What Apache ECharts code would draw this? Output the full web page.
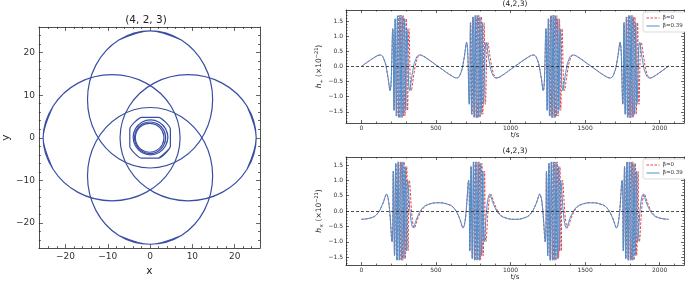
<!DOCTYPE html>
<html>
<head>
<meta charset="utf-8">
<script src="https://cdn.jsdelivr.net/npm/echarts@6/dist/echarts.min.js"></script>
<style>
html, body { margin: 0; padding: 0; background: #fff; }
#chart { width: 685px; height: 282px; }
</style>
</head>
<body>
<div id="chart"></div>
<script>
/* jshint strict: false */

// ---- orbit (x, y); each loop repeats its first points to close ----
var orbitTop = [[-7.4, 22.94], [0, 25.1], [7.4, 22.94], [12.82, 17.05], [14.8, 9], [12.82, 0.95], [7.4, -4.94], [0, -7.1],
    [-7.4, -4.94], [-12.82, 0.95], [-14.8, 9], [-12.82, 17.05], [-7.4, 22.94], [0, 25.1], [7.4, 22.94]];
var orbitBottom = [[-7.4, -22.94], [0, -25.0], [7.4, -22.94], [12.82, -17.05], [14.8, -9], [12.82, -0.95], [7.4, 4.94], [0, 7.1],
    [-7.4, 4.94], [-12.82, -0.95], [-14.8, -9], [-12.82, -17.05], [-7.4, -22.94], [0, -25.0], [7.4, -22.94]];
var orbitRight = [[22.94, -7.4], [25.1, 0], [22.94, 7.4], [17.05, 12.82], [9, 14.8], [0.95, 12.82], [-4.94, 7.4], [-7.1, 0],
    [-4.94, -7.4], [0.95, -12.82], [9, -14.8], [17.05, -12.82], [22.94, -7.4], [25.1, 0], [22.94, 7.4]];
var orbitLeft = [[-22.94, -7.4], [-25.3, 0], [-22.94, 7.4], [-17.05, 12.82], [-9, 14.8], [-0.95, 12.82], [4.94, 7.4], [7.1, 0],
    [4.94, -7.4], [-0.95, -12.82], [-9, -14.8], [-17.05, -12.82], [-22.94, -7.4], [-25.3, 0], [-22.94, 7.4]];
var whirlCore = [[2.84, -1.7], [3.3, 0], [2.84, 1.7], [1.6, 2.94], [-0.1, 3.4], [-1.8, 2.94], [-3.04, 1.7], [-3.5, 0],
    [-3.04, -1.7], [-1.8, -2.94], [-0.1, -3.4], [1.6, -2.94], [2.84, -1.7], [3.3, 0], [2.84, 1.7]];
var whirlInner = [[3.2, -1.85], [3.7, 0], [3.2, 1.85], [1.85, 3.2], [0, 3.7], [-1.85, 3.2], [-3.2, 1.85], [-3.7, 0],
    [-3.2, -1.85], [-1.85, -3.2], [0, -3.7], [1.85, -3.2], [3.2, -1.85], [3.7, 0], [3.2, 1.85]];
var whirlOuter = [[3.65, -1.95], [4.2, 0.1], [3.65, 2.15], [2.15, 3.65], [0.1, 4.2], [-1.95, 3.65], [-3.45, 2.15], [-4.0, 0.1],
    [-3.45, -1.95], [-1.95, -3.45], [0.1, -4.0], [2.15, -3.45], [3.65, -1.95], [4.2, 0.1], [3.65, 2.15]];
var whirlEdge = [[2.0, -4.8], [4.8, -2.0], [4.8, 2.0], [2.0, 4.8], [-2.0, 4.8], [-4.8, 2.0], [-4.8, -2.0], [-2.0, -4.8],
    [2.0, -4.8], [4.8, -2.0], [4.8, 2.0]];

// ---- waveforms [t (s), h (x1e-21)] ----
var hPlusBeta0 = [[0, 0.0], [97, 0.33], [127, 0.38], [153, 0.22], [173, -0.2], [193, -0.8],
    [211, 1.25], [220, -1.45], [229, 1.58], [238, -1.64], [247, 1.68], [256, -1.69], [265, 1.7], [274, -1.69], [283, 1.68], [292, -1.64], [301, 1.58], [310, -1.45], [319, 1.25], [335, -0.8],
    [354, -0.2], [372, 0.22], [395, 0.38], [422, 0.33], [515, 0.0], [612, -0.33], [640, -0.38], [666, -0.22], [686, 0.2], [706, 0.8],
    [724, -1.25], [733, 1.45], [742, -1.58], [751, 1.64], [760, -1.68], [769, 1.69], [778, -1.7], [787, 1.69], [796, -1.68], [805, 1.64], [814, -1.58], [823, 1.45], [832, -1.25], [848, 0.8],
    [867, 0.2], [885, -0.22], [908, -0.38], [935, -0.33], [1028, 0.0], [1125, 0.33], [1154, 0.38], [1180, 0.22], [1200, -0.2], [1220, -0.8],
    [1238, 1.25], [1247, -1.45], [1256, 1.58], [1265, -1.64], [1274, 1.68], [1283, -1.69], [1292, 1.7], [1301, -1.69], [1310, 1.68], [1319, -1.64], [1328, 1.58], [1337, -1.45], [1346, 1.25], [1362, -0.8],
    [1381, -0.2], [1399, 0.22], [1422, 0.38], [1449, 0.33], [1542, 0.0], [1639, -0.33], [1669, -0.38], [1695, -0.22], [1715, 0.2], [1735, 0.8],
    [1753, -1.25], [1762, 1.45], [1771, -1.58], [1780, 1.64], [1789, -1.68], [1798, 1.69], [1807, -1.7], [1816, 1.69], [1825, -1.68], [1834, 1.64], [1843, -1.58], [1852, 1.45], [1861, -1.25], [1877, 0.8],
    [1896, 0.2], [1914, -0.22], [1937, -0.38], [1964, -0.33], [2060, 0.02]];
var hPlusBeta039 = [[0, 0.0], [97, 0.33], [127, 0.38], [153, 0.22], [173, -0.2], [192, -0.8],
    [210, 1.25], [218, -1.45], [226, 1.58], [234, -1.64], [242, 1.68], [250, -1.69], [258, 1.7], [266, -1.69], [274, 1.68], [282, -1.64], [290, 1.58], [298, -1.45], [306, 1.25], [324, -0.8],
    [343, -0.2], [363, 0.22], [389, 0.38], [418, 0.33], [515, 0.0], [612, -0.33], [640, -0.38], [666, -0.22], [686, 0.2], [705, 0.8],
    [723, -1.25], [731, 1.45], [739, -1.58], [747, 1.64], [755, -1.68], [763, 1.69], [771, -1.7], [779, 1.69], [787, -1.68], [795, 1.64], [803, -1.58], [811, 1.45], [819, -1.25], [837, 0.8],
    [856, 0.2], [876, -0.22], [902, -0.38], [931, -0.33], [1028, 0.0], [1125, 0.33], [1154, 0.38], [1180, 0.22], [1200, -0.2], [1219, -0.8],
    [1237, 1.25], [1245, -1.45], [1253, 1.58], [1261, -1.64], [1269, 1.68], [1277, -1.69], [1285, 1.7], [1293, -1.69], [1301, 1.68], [1309, -1.64], [1317, 1.58], [1325, -1.45], [1333, 1.25], [1351, -0.8],
    [1370, -0.2], [1390, 0.22], [1416, 0.38], [1445, 0.33], [1542, 0.0], [1639, -0.33], [1669, -0.38], [1695, -0.22], [1715, 0.2], [1734, 0.8],
    [1752, -1.25], [1760, 1.45], [1768, -1.58], [1776, 1.64], [1784, -1.68], [1792, 1.69], [1800, -1.7], [1808, 1.69], [1816, -1.68], [1824, 1.64], [1832, -1.58], [1840, 1.45], [1848, -1.25], [1866, 0.8],
    [1885, 0.2], [1905, -0.22], [1931, -0.38], [1960, -0.33], [2060, 0.02]];
var hCrossBeta0 = [[0, -0.27], [65, -0.22], [105, -0.1], [140, 0.2], [168, 0.55],
    [205, -1.0], [214, 1.3], [223, -1.45], [232, 1.55], [241, -1.6], [250, 1.6], [259, -1.6], [268, 1.6], [277, -1.6], [286, 1.6], [295, -1.55], [304, 1.45], [313, -1.3], [322, 1.0],
    [356, -0.55], [382, -0.2], [416, 0.1], [455, 0.22], [515, 0.27], [580, 0.22], [620, 0.1], [655, -0.2], [681, -0.55],
    [718, 1.0], [727, -1.3], [736, 1.45], [745, -1.55], [754, 1.6], [763, -1.6], [772, 1.6], [781, -1.6], [790, 1.6], [799, -1.6], [808, 1.55], [817, -1.45], [826, 1.3], [835, -1.0],
    [869, 0.55], [895, 0.2], [929, -0.1], [968, -0.22], [1028, -0.27], [1093, -0.22], [1133, -0.1], [1168, 0.2], [1195, 0.55],
    [1232, -1.0], [1241, 1.3], [1250, -1.45], [1259, 1.55], [1268, -1.6], [1277, 1.6], [1286, -1.6], [1295, 1.6], [1304, -1.6], [1313, 1.6], [1322, -1.55], [1331, 1.45], [1340, -1.3], [1349, 1.0],
    [1383, -0.55], [1409, -0.2], [1443, 0.1], [1482, 0.22], [1542, 0.27], [1607, 0.22], [1647, 0.1], [1682, -0.2], [1710, -0.55],
    [1747, 1.0], [1756, -1.3], [1765, 1.45], [1774, -1.55], [1783, 1.6], [1792, -1.6], [1801, 1.6], [1810, -1.6], [1819, 1.6], [1828, -1.6], [1837, 1.55], [1846, -1.45], [1855, 1.3], [1864, -1.0],
    [1898, 0.55], [1924, 0.2], [1958, -0.1], [1996, -0.22], [2060, -0.27]];
var hCrossBeta039 = [[0, -0.27], [65, -0.22], [105, -0.1], [140, 0.2], [168, 0.55],
    [206, -1.0], [214, 1.3], [222, -1.45], [230, 1.55], [238, -1.6], [246, 1.6], [254, -1.6], [262, 1.6], [270, -1.6], [278, 1.6], [286, -1.55], [294, 1.45], [302, -1.3], [310, 1.0],
    [348, -0.55], [375, -0.2], [410, 0.1], [450, 0.22], [515, 0.27], [580, 0.22], [620, 0.1], [655, -0.2], [681, -0.55],
    [719, 1.0], [727, -1.3], [735, 1.45], [743, -1.55], [751, 1.6], [759, -1.6], [767, 1.6], [775, -1.6], [783, 1.6], [791, -1.6], [799, 1.55], [807, -1.45], [815, 1.3], [823, -1.0],
    [861, 0.55], [888, 0.2], [923, -0.1], [963, -0.22], [1028, -0.27], [1093, -0.22], [1133, -0.1], [1168, 0.2], [1195, 0.55],
    [1233, -1.0], [1241, 1.3], [1249, -1.45], [1257, 1.55], [1265, -1.6], [1273, 1.6], [1281, -1.6], [1289, 1.6], [1297, -1.6], [1305, 1.6], [1313, -1.55], [1321, 1.45], [1329, -1.3], [1337, 1.0],
    [1375, -0.55], [1402, -0.2], [1437, 0.1], [1477, 0.22], [1542, 0.27], [1607, 0.22], [1647, 0.1], [1682, -0.2], [1710, -0.55],
    [1748, 1.0], [1756, -1.3], [1764, 1.45], [1772, -1.55], [1780, 1.6], [1788, -1.6], [1796, 1.6], [1804, -1.6], [1812, 1.6], [1820, -1.6], [1828, 1.55], [1836, -1.45], [1844, 1.3], [1852, -1.0],
    [1890, 0.55], [1917, 0.2], [1952, -0.1], [1992, -0.22], [2060, -0.27]];

// ---- ticks ----
var orbitMajor = [-20, -10, 0, 10, 20];
var orbitMinor = [-24, -22, -18, -16, -14, -12, -8, -6, -4, -2, 2, 4, 6, 8, 12, 14, 16, 18, 22, 24];
var timeMajor = [0, 500, 1000, 1500, 2000];
var timeMinor = [-100, 100, 200, 300, 400, 600, 700, 800, 900, 1100, 1200, 1300, 1400, 1600, 1700, 1800, 1900, 2100];
var ampMajor = [-1.5, -1.0, -0.5, 0.0, 0.5, 1.0, 1.5];
var ampMinor = [-1.8, -1.7, -1.6, -1.4, -1.3, -1.2, -1.1, -0.9, -0.8, -0.7, -0.6, -0.4, -0.3, -0.2, -0.1,
    0.1, 0.2, 0.3, 0.4, 0.6, 0.7, 0.8, 0.9, 1.1, 1.2, 1.3, 1.4, 1.6, 1.7, 1.8];

var FONT = 'DejaVu Sans';
var INK = '#222';
var ORBIT_BLUE = '#3a4fa3';
var RED = '#e3434a';
var BLUE = '#4a90cf';

function minus(s) { return s.replace('-', '\u2212'); }

// four axes per direction: labelled major, minor, and mirrored major/minor on the opposite side
function boxAxes(dir, grid, min, max, major, minor, opts) {
    var sides = dir === 'x' ? ['bottom', 'top'] : ['left', 'right'];
    var axes = [];
    sides.forEach(function (pos, i) {
        [major, minor].forEach(function (vals, j) {
            var main = i === 0 && j === 0;
            var ax = {
                type: 'value', gridIndex: grid, position: pos, min: min, max: max,
                axisLine: {show: j === 0, onZero: false, lineStyle: {color: INK, width: 0.8}},
                axisTick: {show: true, inside: true, length: j === 0 ? opts.major : opts.minor,
                    customValues: vals, lineStyle: {color: INK, width: 0.7}},
                axisLabel: {show: false},
                splitLine: {show: false}
            };
            if (main) {
                ax.axisLabel = {show: true, customValues: major, margin: opts.margin,
                    fontFamily: FONT, fontSize: opts.font, color: '#333', formatter: opts.fmt};
                ax.name = opts.name;
                ax.nameLocation = 'middle';
                ax.nameGap = opts.nameGap;
                ax.nameRotate = dir === 'y' ? 90 : 0;
                ax.nameTextStyle = opts.nameStyle;
            }
            axes.push(ax);
        });
    });
    return axes;
}

var nameRich = {
    i: {fontFamily: FONT, fontStyle: 'italic', fontSize: 7.5, color: INK, lineHeight: 10},
    s: {fontFamily: FONT, fontSize: 5, color: INK, verticalAlign: 'bottom', lineHeight: 10},
    p: {fontFamily: FONT, fontSize: 5, color: INK, verticalAlign: 'top', lineHeight: 10},
    n: {fontFamily: FONT, fontSize: 7.5, color: INK, lineHeight: 10}
};

var orbitOpts = function (name, gap) {
    return {major: 4, minor: 2, margin: 4, font: 9, fmt: function (v) { return minus(String(v)); },
        name: name, nameGap: gap, nameStyle: {fontFamily: FONT, fontSize: 10.5, color: INK}};
};
var timeOpts = {major: 3, minor: 1.5, margin: 2, font: 6, fmt: function (v) { return String(v); },
    name: 't/s', nameGap: 2, nameStyle: {fontFamily: FONT, fontSize: 7, color: INK}};
var ampOpts = function (label) {
    return {major: 3, minor: 1.5, margin: 3, font: 6, fmt: function (v) { return minus(v.toFixed(1)); },
        name: label, nameGap: 17, nameStyle: {fontFamily: FONT, fontSize: 7.5, color: INK, rich: nameRich}};
};

var xAxes = [].concat(
    boxAxes('x', 0, -26.3, 26.0, orbitMajor, orbitMinor, orbitOpts('x', 12)),
    boxAxes('x', 1, -103, 2163, timeMajor, timeMinor, timeOpts),
    boxAxes('x', 2, -103, 2163, timeMajor, timeMinor, timeOpts)
);
var yAxes = [].concat(
    boxAxes('y', 0, -25.9, 26.0, orbitMajor, orbitMinor, orbitOpts('y', 18)),
    boxAxes('y', 1, -1.87, 1.87, ampMajor, ampMinor, ampOpts('{i|h}{s|+} {n|(×10}{p|−21}{n|)}')),
    boxAxes('y', 2, -1.76, 1.76, ampMajor, ampMinor, ampOpts('{i|h}{s|×} {n|(×10}{p|−21}{n|)}'))
);

function orbitSeries(data, smooth) {
    return {type: 'line', xAxisIndex: 0, yAxisIndex: 0, data: data, smooth: smooth, symbol: 'none',
        lineStyle: {color: ORBIT_BLUE, width: 1.2}, silent: true};
}

var zeroLine = {
    silent: true, symbol: 'none', label: {show: false},
    lineStyle: {color: INK, type: [3, 2], width: 0.8},
    data: [{yAxis: 0}]
};

function waveSeries(name, data, axis, color, dashed, withZero) {
    var s = {
        name: name, type: 'line', xAxisIndex: axis, yAxisIndex: axis, data: data,
        smooth: 0.45, symbol: 'none',
        lineStyle: {color: color, width: 1, type: dashed ? [2.5, 1.5] : 'solid'},
        itemStyle: {color: color}
    };
    if (withZero) { s.markLine = zeroLine; }
    return s;
}

var legendBase = {
    orient: 'vertical', left: 643, itemWidth: 13, itemHeight: 6, itemGap: 2,
    padding: [3, 3, 3, 3], backgroundColor: '#fff', borderColor: '#ccc', borderWidth: 0.7, borderRadius: 2,
    itemStyle: {opacity: 0},
    lineStyle: {width: 1},
    textStyle: {fontFamily: FONT, fontSize: 5.5, color: '#333', padding: [0, 0, 0, -2]},
    data: ['β=0', 'β=0.39']
};

var chart = echarts.init(document.getElementById('chart'), null, {renderer: 'canvas'});

chart.setOption({
    animation: false,
    backgroundColor: '#fff',
    grid: [
        {left: 32, top: 27, width: 228, height: 227},
        {left: 346, top: 10, width: 338, height: 113},
        {left: 346, top: 157, width: 338, height: 112}
    ],
    xAxis: xAxes,
    yAxis: yAxes,
    legend: [
        Object.assign({}, legendBase, {top: 12}),
        Object.assign({}, legendBase, {top: 159})
    ],
    graphic: [
        {type: 'text', x: 146, y: 20, style: {text: '(4, 2, 3)', align: 'center', verticalAlign: 'middle',
            fontFamily: FONT, fontSize: 10.5, fill: INK}},
        {type: 'text', x: 515, y: 4, style: {text: '(4,2,3)', align: 'center', verticalAlign: 'middle',
            fontFamily: FONT, fontSize: 7.5, fill: INK}},
        {type: 'text', x: 515, y: 151, style: {text: '(4,2,3)', align: 'center', verticalAlign: 'middle',
            fontFamily: FONT, fontSize: 7.5, fill: INK}}
    ],
    series: [
        orbitSeries(orbitTop, 0.35),
        orbitSeries(orbitBottom, 0.35),
        orbitSeries(orbitRight, 0.35),
        orbitSeries(orbitLeft, 0.35),
        orbitSeries(whirlEdge, 0.2),
        orbitSeries(whirlOuter, 0.35),
        orbitSeries(whirlInner, 0.35),
        orbitSeries(whirlCore, 0.35),
        waveSeries('β=0', hPlusBeta0, 4, RED, true, false),
        waveSeries('β=0.39', hPlusBeta039, 4, BLUE, false, true),
        waveSeries('β=0', hCrossBeta0, 8, RED, true, false),
        waveSeries('β=0.39', hCrossBeta039, 8, BLUE, false, true)
    ]
});
</script>
</body>
</html>
